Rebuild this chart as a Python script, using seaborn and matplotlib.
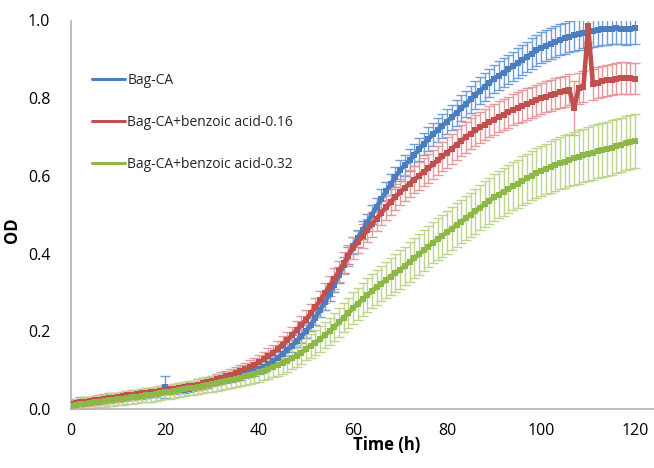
import numpy as np
import pandas as pd
import matplotlib
matplotlib.use("Agg")
import matplotlib.pyplot as plt
import seaborn as sns
from matplotlib.lines import Line2D

time_h = list(range(0, 121))

od_bag_ca = [
    0.010, 0.013, 0.015, 0.016, 0.018, 0.019, 0.020, 0.022, 0.024, 0.025,
    0.026, 0.028, 0.030, 0.031, 0.033, 0.035, 0.036, 0.038, 0.040, 0.043,
    0.057, 0.046, 0.046, 0.048, 0.050, 0.052, 0.055, 0.057, 0.060, 0.063,
    0.066, 0.069, 0.072, 0.075, 0.078, 0.081, 0.085, 0.089, 0.093, 0.097,
    0.102, 0.108, 0.115, 0.123, 0.132, 0.142, 0.152, 0.163, 0.175, 0.187,
    0.200, 0.217, 0.235, 0.255, 0.275, 0.297, 0.320, 0.345, 0.370, 0.395,
    0.420, 0.440, 0.460, 0.480, 0.500, 0.520, 0.540, 0.560, 0.578, 0.597,
    0.615, 0.628, 0.640, 0.654, 0.668, 0.682, 0.695, 0.707, 0.718, 0.729,
    0.740, 0.751, 0.762, 0.774, 0.785, 0.797, 0.808, 0.819, 0.830, 0.840,
    0.850, 0.858, 0.866, 0.874, 0.882, 0.890, 0.898, 0.906, 0.915, 0.923,
    0.930, 0.935, 0.940, 0.945, 0.950, 0.954, 0.958, 0.962, 0.965, 0.968,
    0.970, 0.972, 0.975, 0.977, 0.978, 0.979, 0.980, 0.979, 0.978, 0.979, 0.980,
]
od_ba_016 = [
    0.012, 0.015, 0.018, 0.019, 0.020, 0.022, 0.024, 0.026, 0.028, 0.029,
    0.030, 0.033, 0.035, 0.036, 0.038, 0.040, 0.042, 0.043, 0.045, 0.047,
    0.050, 0.051, 0.052, 0.054, 0.056, 0.058, 0.060, 0.063, 0.066, 0.069,
    0.072, 0.076, 0.080, 0.084, 0.088, 0.092, 0.097, 0.102, 0.108, 0.114,
    0.120, 0.128, 0.136, 0.145, 0.155, 0.166, 0.177, 0.190, 0.203, 0.216,
    0.230, 0.246, 0.262, 0.280, 0.298, 0.316, 0.335, 0.355, 0.375, 0.395,
    0.415, 0.430, 0.445, 0.460, 0.475, 0.490, 0.505, 0.519, 0.533, 0.546,
    0.558, 0.569, 0.580, 0.590, 0.600, 0.610, 0.620, 0.630, 0.640, 0.650,
    0.660, 0.670, 0.680, 0.690, 0.700, 0.709, 0.717, 0.725, 0.732, 0.739,
    0.745, 0.752, 0.758, 0.764, 0.770, 0.775, 0.780, 0.785, 0.790, 0.795,
    0.800, 0.804, 0.808, 0.812, 0.815, 0.818, 0.822, 0.775, 0.826, 0.830,
    0.985, 0.836, 0.840, 0.843, 0.846, 0.848, 0.850, 0.852, 0.852, 0.851, 0.850,
]
od_ba_032 = [
    0.008, 0.010, 0.012, 0.014, 0.016, 0.018, 0.019, 0.021, 0.023, 0.024,
    0.026, 0.027, 0.029, 0.030, 0.032, 0.034, 0.035, 0.037, 0.039, 0.041,
    0.043, 0.045, 0.047, 0.049, 0.051, 0.053, 0.055, 0.057, 0.060, 0.062,
    0.065, 0.067, 0.070, 0.072, 0.075, 0.078, 0.081, 0.084, 0.088, 0.091,
    0.095, 0.099, 0.103, 0.108, 0.113, 0.118, 0.124, 0.130, 0.137, 0.144,
    0.155, 0.163, 0.171, 0.180, 0.190, 0.200, 0.211, 0.223, 0.235, 0.247,
    0.260, 0.271, 0.282, 0.293, 0.303, 0.313, 0.323, 0.332, 0.341, 0.350,
    0.358, 0.368, 0.378, 0.388, 0.398, 0.408, 0.418, 0.428, 0.437, 0.446,
    0.455, 0.464, 0.473, 0.482, 0.491, 0.500, 0.509, 0.518, 0.527, 0.536,
    0.545, 0.552, 0.559, 0.566, 0.573, 0.580, 0.587, 0.594, 0.601, 0.607,
    0.613, 0.618, 0.623, 0.628, 0.633, 0.637, 0.641, 0.645, 0.649, 0.653,
    0.656, 0.660, 0.664, 0.667, 0.670, 0.673, 0.677, 0.680, 0.684, 0.687, 0.690,
]

err_bag_ca = [
    0.008, 0.008, 0.008, 0.008, 0.008, 0.008, 0.008, 0.008, 0.008, 0.008,
    0.008, 0.008, 0.008, 0.008, 0.008, 0.008, 0.008, 0.008, 0.008, 0.008,
    0.028, 0.008, 0.008, 0.008, 0.008, 0.008, 0.008, 0.008, 0.008, 0.008,
    0.008, 0.008, 0.008, 0.009, 0.009, 0.010, 0.010, 0.010, 0.011, 0.011,
    0.012, 0.012, 0.013, 0.013, 0.014, 0.014, 0.015, 0.015, 0.016, 0.016,
    0.017, 0.017, 0.018, 0.018, 0.019, 0.019, 0.020, 0.020, 0.021, 0.021,
    0.022, 0.022, 0.023, 0.023, 0.024, 0.024, 0.025, 0.025, 0.026, 0.026,
    0.027, 0.027, 0.028, 0.028, 0.029, 0.029, 0.030, 0.030, 0.031, 0.031,
    0.032, 0.032, 0.033, 0.033, 0.034, 0.034, 0.035, 0.035, 0.036, 0.036,
    0.036, 0.037, 0.037, 0.037, 0.038, 0.038, 0.038, 0.039, 0.039, 0.039,
    0.040, 0.040, 0.040, 0.040, 0.040, 0.040, 0.040, 0.040, 0.040, 0.040,
    0.040, 0.040, 0.040, 0.040, 0.040, 0.040, 0.040, 0.040, 0.040, 0.040, 0.040,
]
err_ba_016 = [
    0.012, 0.012, 0.012, 0.012, 0.012, 0.012, 0.012, 0.012, 0.012, 0.012,
    0.012, 0.012, 0.012, 0.012, 0.012, 0.012, 0.012, 0.012, 0.012, 0.012,
    0.012, 0.012, 0.012, 0.012, 0.012, 0.012, 0.012, 0.013, 0.013, 0.013,
    0.014, 0.014, 0.015, 0.015, 0.016, 0.016, 0.017, 0.017, 0.018, 0.018,
    0.019, 0.019, 0.020, 0.020, 0.021, 0.021, 0.022, 0.022, 0.023, 0.023,
    0.024, 0.024, 0.025, 0.025, 0.026, 0.026, 0.027, 0.027, 0.028, 0.028,
    0.029, 0.029, 0.030, 0.030, 0.031, 0.031, 0.032, 0.032, 0.033, 0.033,
    0.034, 0.034, 0.035, 0.035, 0.036, 0.036, 0.037, 0.037, 0.038, 0.038,
    0.039, 0.039, 0.040, 0.040, 0.040, 0.040, 0.040, 0.040, 0.040, 0.040,
    0.040, 0.040, 0.040, 0.040, 0.040, 0.040, 0.040, 0.040, 0.040, 0.040,
    0.040, 0.040, 0.040, 0.040, 0.040, 0.040, 0.040, 0.070, 0.040, 0.040,
    0.040, 0.040, 0.040, 0.040, 0.040, 0.040, 0.040, 0.040, 0.040, 0.040, 0.040,
]
err_ba_032 = [
    0.014, 0.014, 0.014, 0.014, 0.015, 0.015, 0.015, 0.015, 0.016, 0.016,
    0.016, 0.016, 0.017, 0.017, 0.017, 0.017, 0.018, 0.018, 0.018, 0.018,
    0.018, 0.018, 0.018, 0.018, 0.018, 0.018, 0.018, 0.019, 0.019, 0.019,
    0.020, 0.020, 0.021, 0.021, 0.022, 0.022, 0.023, 0.023, 0.024, 0.024,
    0.025, 0.025, 0.026, 0.026, 0.027, 0.027, 0.028, 0.028, 0.029, 0.029,
    0.030, 0.031, 0.032, 0.033, 0.034, 0.035, 0.036, 0.037, 0.038, 0.039,
    0.040, 0.041, 0.042, 0.043, 0.044, 0.045, 0.046, 0.047, 0.048, 0.049,
    0.050, 0.050, 0.051, 0.051, 0.052, 0.052, 0.053, 0.053, 0.054, 0.054,
    0.055, 0.055, 0.056, 0.056, 0.057, 0.057, 0.058, 0.058, 0.059, 0.059,
    0.060, 0.060, 0.061, 0.061, 0.062, 0.062, 0.063, 0.063, 0.064, 0.064,
    0.065, 0.065, 0.066, 0.066, 0.067, 0.067, 0.068, 0.068, 0.069, 0.069,
    0.070, 0.070, 0.070, 0.070, 0.070, 0.070, 0.070, 0.070, 0.070, 0.070, 0.070,
]

series_names = ["Bag-CA", "Bag-CA+benzoic acid-0.16", "Bag-CA+benzoic acid-0.32"]
series_values = [od_bag_ca, od_ba_016, od_ba_032]
series_errors = [err_bag_ca, err_ba_016, err_ba_032]
line_colors = ["#4a7ebf", "#c0504d", "#8db847"]
err_colors = ["#6f9edb", "#e39c9b", "#bcd68f"]

x_ticks = [0, 20, 40, 60, 80, 100, 120]
y_ticks = [0.0, 0.2, 0.4, 0.6, 0.8, 1.0]

sns.set_theme(style="white")
plt.rcParams["font.family"] = ["Open Sans", "DejaVu Sans"]

df = pd.concat(
    [pd.DataFrame({"Time": time_h, "OD": v, "err": e, "series": n})
     for n, v, e in zip(series_names, series_values, series_errors)],
    ignore_index=True,
)

fig = plt.figure(figsize=(6.54, 4.68), dpi=100)
ax = fig.add_axes([71 / 654, 1 - 409 / 468, 583 / 654, 388.5 / 468])

for name, lc, ec in zip(series_names, line_colors, err_colors):
    sub = df[df["series"] == name]
    ax.errorbar(sub["Time"], sub["OD"], yerr=sub["err"], fmt="none",
                ecolor=ec, elinewidth=1.0, capsize=3.5, capthick=1.0, zorder=2)
    sns.lineplot(data=sub, x="Time", y="OD", color=lc, linewidth=3.3,
                 marker="s", markersize=4, markeredgewidth=0,
                 ax=ax, legend=False, zorder=3)

ax.set_xlim(0, 124)
ax.set_ylim(0, 1.0)
ax.set_xticks(x_ticks)
ax.set_yticks(y_ticks)
ax.set_xticklabels([str(t) for t in x_ticks])
ax.set_yticklabels([f"{t:.1f}" for t in y_ticks])

for s in ["top", "right"]:
    ax.spines[s].set_visible(False)
for s in ["left", "bottom"]:
    ax.spines[s].set_color("#b3b3b3")
    ax.spines[s].set_linewidth(1.2)

ax.tick_params(axis="both", which="major", direction="out", color="#b3b3b3",
               width=1.0, labelsize=11.5, labelcolor="black")
ax.tick_params(axis="x", length=5, pad=5)
ax.tick_params(axis="y", length=6, pad=9)

ax.set_xlabel("Time (h)", fontsize=12, fontweight="bold", color="black")
ax.set_ylabel("OD", fontsize=12, fontweight="bold", color="black")
ax.xaxis.set_label_coords(0.542, -0.07)
ax.yaxis.set_label_coords(-0.085, 0.46)

handles = [Line2D([0], [0], color=c, linewidth=2.2) for c in line_colors]
ax.legend(handles, series_names, loc="upper left", bbox_to_anchor=(0.036, 0.865),
          frameon=False, fontsize=10, handlelength=2.4, handletextpad=0.15,
          labelspacing=1.95, borderpad=0, borderaxespad=0)

fig.savefig("out.png", dpi=100)
